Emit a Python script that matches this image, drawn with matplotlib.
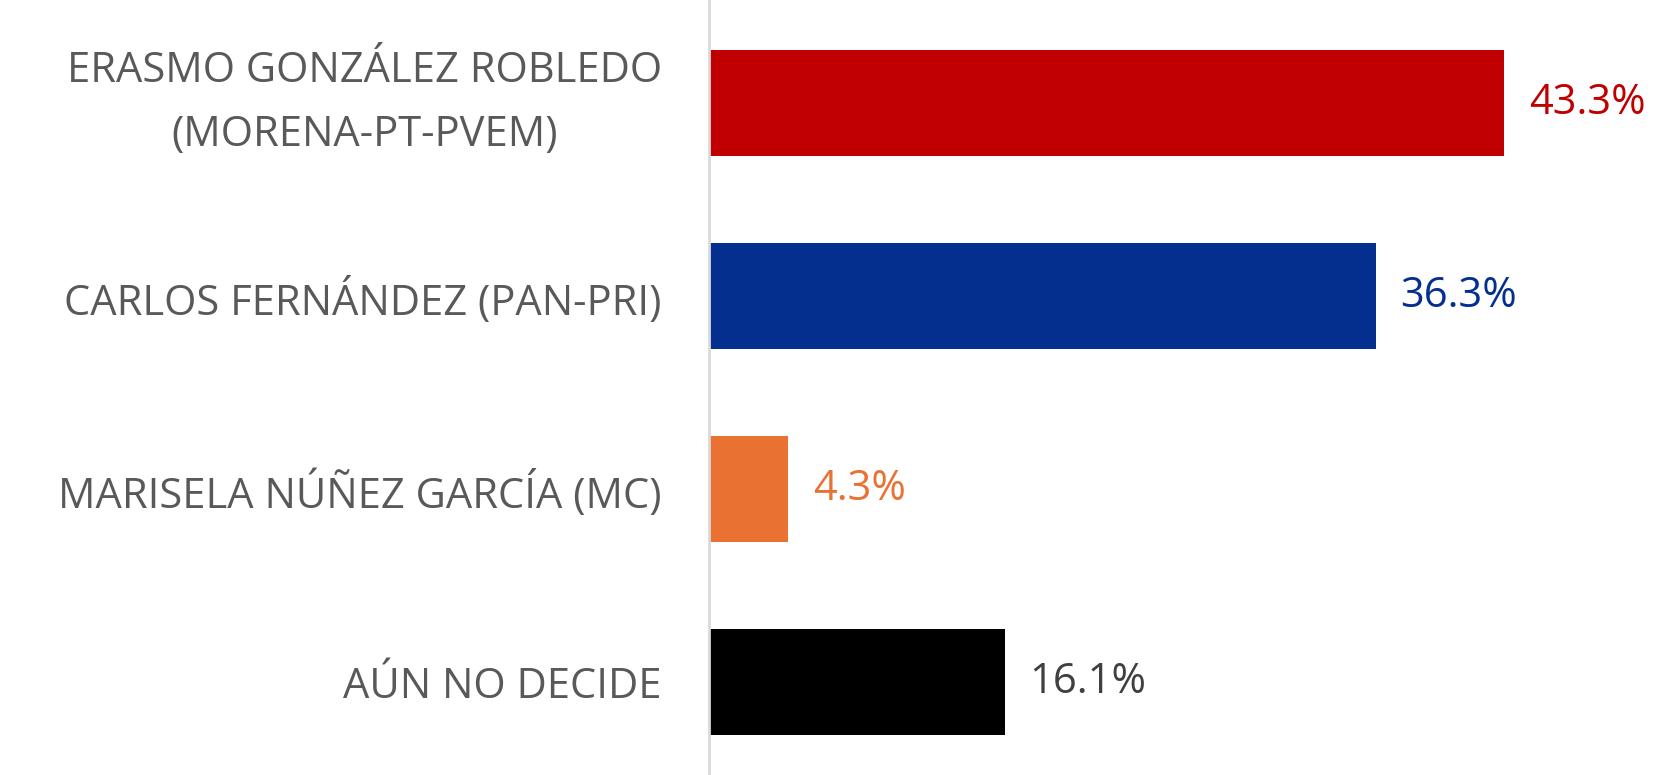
import matplotlib
matplotlib.use("Agg")
import matplotlib.pyplot as plt

candidates = [
    "ERASMO GONZÁLEZ ROBLEDO\n(MORENA-PT-PVEM)",
    "CARLOS FERNÁNDEZ (PAN-PRI)",
    "MARISELA NÚÑEZ GARCÍA (MC)",
    "AÚN NO DECIDE",
]
values = [43.3, 36.3, 4.3, 16.1]
bar_colors = ["#C00000", "#042F8F", "#E97132", "#000000"]
label_colors = ["#C00000", "#042F8F", "#E97132", "#404040"]

plt.rcParams["font.family"] = ["Open Sans", "DejaVu Sans"]

fig = plt.figure(figsize=(16.62, 7.75), dpi=100)
ax = fig.add_axes([709 / 1662, 0, 953 / 1662, 1])

ypos = [3, 2, 1, 0]
ax.barh(ypos, values, height=0.55, color=bar_colors)

for y, v, c in zip(ypos, values, label_colors):
    ax.annotate(f"{v:.1f}%", (v, y), xytext=(18, 0), textcoords="offset points",
                va="center", ha="left", fontsize=30, color=c)

ax.set_xlim(0, 51.9)
ax.set_ylim(-0.482, 3.534)
ax.set_yticks(ypos)
ax.set_yticklabels(candidates, fontsize=30, color="#595959", ha="right",
                   multialignment="center", linespacing=1.7)
ax.get_yticklabels()[0].set_verticalalignment("center")
ax.tick_params(axis="y", length=0, pad=34)
ax.set_xticks([])

for s in ["top", "right", "bottom"]:
    ax.spines[s].set_visible(False)
ax.spines["left"].set_color("#D9D9D9")
ax.spines["left"].set_linewidth(2)

fig.savefig("out.png", dpi=100)
